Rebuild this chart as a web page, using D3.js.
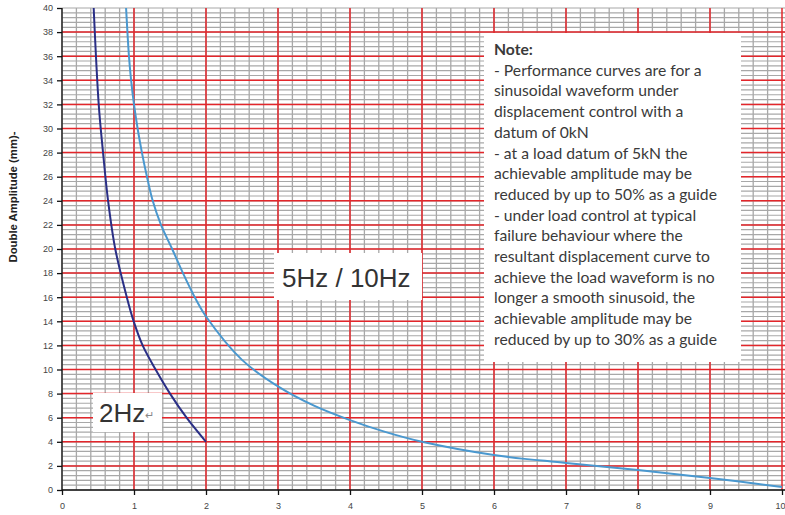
<!DOCTYPE html>
<html>
<head>
<meta charset="utf-8">
<script src="https://cdn.jsdelivr.net/npm/d3@7"></script>
<style>
  body { margin: 0; background: #fff; }
  svg { display: block; }
  .tick text { font-family: Arial, "Liberation Sans", sans-serif; font-size: 9px; fill: #444; }
</style>
</head>
<body>
<div id="chart"></div>
<script>
// tick values
var xTicks = [0, 1, 2, 3, 4, 5, 6, 7, 8, 9, 10];
var yTicks = [0, 2, 4, 6, 8, 10, 12, 14, 16, 18, 20, 22, 24, 26, 28, 30, 32, 34, 36, 38, 40];

// 2Hz curve (frequency axis value, double amplitude mm)
var hz2X = [0.44, 0.51, 0.57, 0.64, 0.74, 0.90, 0.99, 1.12, 1.30, 1.50, 1.73, 2.00];
var hz2Y = [40, 32, 28, 24, 20, 16, 14.1, 12, 10, 8, 6, 4];

// 5Hz / 10Hz curve
var hz5X = [0.89, 0.93, 0.96, 1.00, 1.05, 1.11, 1.18, 1.26, 1.375, 1.53, 1.68, 1.87, 2.0, 2.5, 3.0, 3.5, 4.0, 4.5, 5.0, 6.0, 7.0, 8.0, 9.0, 10.0];
var hz5Y = [40, 36, 34, 32, 30, 28, 26, 24, 22, 20, 18, 15.7, 14.4, 10.8, 8.6, 7.0, 5.8, 4.8, 4.0, 2.9, 2.25, 1.65, 1.0, 0.25];

var noteLines = [
    "- Performance curves are for a",
    "sinusoidal waveform under",
    "displacement control with a",
    "datum of 0kN",
    "- at a load datum of 5kN the",
    "achievable amplitude may be",
    "reduced by up to 50% as a guide",
    "- under load control at typical",
    "failure behaviour where the",
    "resultant displacement curve to",
    "achieve the load waveform is no",
    "longer a smooth sinusoid, the",
    "achievable amplitude may be",
    "reduced by up to 30% as a guide"
];

var width = 785, height = 515;
var svg = d3.select("#chart").append("svg")
    .attr("width", width)
    .attr("height", height);

var xScale = d3.scaleLinear().domain([0, 10]).range([62, 782]);
var yScale = d3.scaleLinear().domain([0, 40]).range([490, 8]);

var grid = svg.append("g");

// minor grid
grid.selectAll(".vminor")
    .data(d3.range(0, 50).map(i => i * 0.2))
    .enter().append("line")
    .attr("x1", d => xScale(d)).attr("x2", d => xScale(d))
    .attr("y1", yScale(40)).attr("y2", yScale(0))
    .style("stroke", "#a8a8a8").style("stroke-width", 1.3);

grid.selectAll(".hminor")
    .data(d3.range(0, 101).map(i => i * 0.4))
    .enter().append("line")
    .attr("x1", xScale(0)).attr("x2", width)
    .attr("y1", d => yScale(d)).attr("y2", d => yScale(d))
    .style("stroke", "#a8a8a8").style("stroke-width", 1.2);

// major red grid
grid.selectAll(".vmajor")
    .data(xTicks.slice(1))
    .enter().append("line")
    .attr("x1", d => xScale(d)).attr("x2", d => xScale(d))
    .attr("y1", yScale(40)).attr("y2", yScale(0))
    .style("stroke", "#e3262b").style("stroke-width", 1.5);

grid.selectAll(".hmajor")
    .data(yTicks.slice(1, -1))
    .enter().append("line")
    .attr("x1", xScale(0)).attr("x2", width)
    .attr("y1", d => yScale(d)).attr("y2", d => yScale(d))
    .style("stroke", "#e3262b").style("stroke-width", 1.5);

// curves
var line = d3.line()
    .x(d => xScale(d[0]))
    .y(d => yScale(d[1]))
    .curve(d3.curveCatmullRom.alpha(0.5));

svg.append("path")
    .datum(d3.zip(hz5X, hz5Y))
    .attr("d", line)
    .style("fill", "none")
    .style("stroke", "#4a98cf")
    .style("stroke-width", 2);

svg.append("path")
    .datum(d3.zip(hz2X, hz2Y))
    .attr("d", line)
    .style("fill", "none")
    .style("stroke", "#2a2f86")
    .style("stroke-width", 2);

// axes
svg.append("g")
    .attr("transform", `translate(${xScale(0)},0)`)
    .call(d3.axisLeft(yScale).tickValues(yTicks).tickSize(5).tickPadding(4).tickFormat(d3.format("d")))
    .call(g => g.selectAll("path, line").style("stroke", "#111").style("stroke-width", 1.3))
    .call(g => g.select(".domain").attr("d", `M0,${yScale(40)}V${yScale(0)}`));

svg.append("g")
    .attr("transform", `translate(0,${yScale(0)})`)
    .call(d3.axisBottom(xScale).tickValues(xTicks).tickSize(5).tickPadding(8).tickFormat(d3.format("d")))
    .call(g => g.selectAll("path, line").style("stroke", "#111").style("stroke-width", 1.3))
    .call(g => g.select(".domain").attr("d", `M${xScale(0)},0H${width}`))
    .call(g => g.selectAll(".tick text").filter(d => d === 10).attr("text-anchor", "end").attr("dx", 3));

// y axis title
svg.append("text")
    .attr("transform", "translate(17,197) rotate(-90)")
    .attr("text-anchor", "middle")
    .attr("textLength", 131)
    .attr("lengthAdjust", "spacingAndGlyphs")
    .style("font-family", "Arial, 'Liberation Sans', sans-serif")
    .style("font-size", "10.5px")
    .style("font-weight", "bold")
    .style("fill", "#222")
    .text("Double Amplitude (mm)-");

// curve labels
function label(x, y, w, h, tx, ty, txt) {
    svg.append("rect")
        .attr("x", x).attr("y", y).attr("width", w).attr("height", h)
        .style("fill", "#fff");
    return svg.append("text")
        .attr("x", tx).attr("y", ty)
        .style("font-family", "Arial, 'Liberation Sans', sans-serif")
        .style("font-size", "26px")
        .style("fill", "#333")
        .text(txt);
}
label(274, 253, 148, 47, 282, 287, "5Hz / 10Hz");
label(93, 393, 69, 39, 99, 422, "2Hz")
    .append("tspan")
    .attr("dy", -3)
    .style("font-size", "11px")
    .style("fill", "#888")
    .text("\u21b5");

// note box
svg.append("rect")
    .attr("x", 484).attr("y", 33).attr("width", 257).attr("height", 329)
    .style("fill", "#fff");

var note = svg.append("text")
    .style("font-family", "Lato, 'Open Sans', sans-serif")
    .style("font-size", "15.7px")
    .style("fill", "#3a3a3a");

note.append("tspan")
    .attr("x", 494).attr("y", 55)
    .style("font-weight", "bold")
    .text("Note:");

note.selectAll(".ln")
    .data(noteLines)
    .enter().append("tspan")
    .attr("x", 494)
    .attr("y", (d, i) => 55 + (i + 1) * 20.7)
    .text(d => d);
</script>
</body>
</html>
